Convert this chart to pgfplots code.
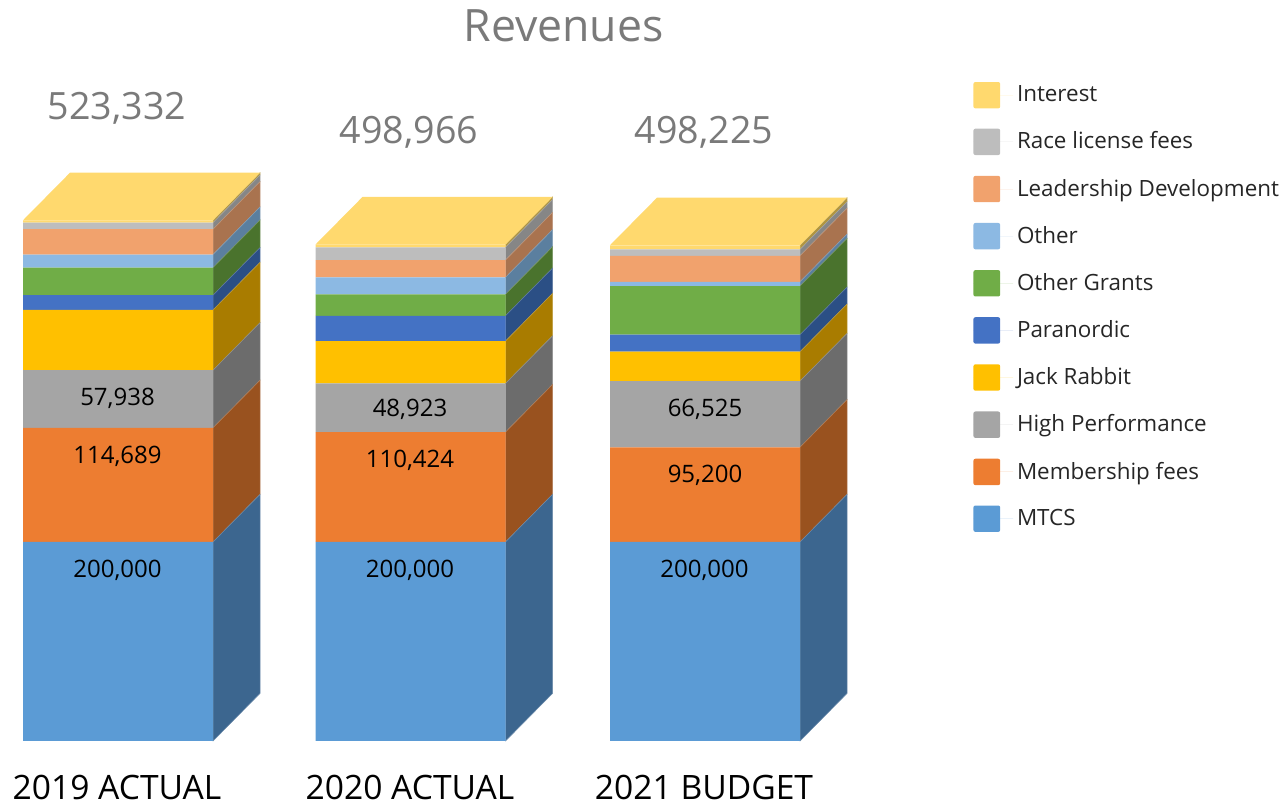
\documentclass[border=0pt]{standalone}
\usepackage{fontspec}
\setmainfont{Open Sans}
\usepackage{pgfplots}
\usepackage{pgfplotstable}
\pgfplotsset{compat=1.18}

% front faces
\definecolor{cMTCS}{HTML}{5B9BD5}
\definecolor{cMember}{HTML}{ED7D31}
\definecolor{cHigh}{HTML}{A5A5A5}
\definecolor{cJack}{HTML}{FFC000}
\definecolor{cPara}{HTML}{4472C4}
\definecolor{cGrants}{HTML}{70AD47}
\definecolor{cOther}{HTML}{8CB9E3}
\definecolor{cLead}{HTML}{F1A26D}
\definecolor{cRace}{HTML}{BDBDBD}
\definecolor{cInt}{HTML}{FFD96E}
% side faces
\definecolor{sMTCS}{HTML}{3C668F}
\definecolor{sMember}{HTML}{99521F}
\definecolor{sHigh}{HTML}{6C6C6C}
\definecolor{sJack}{HTML}{A97C00}
\definecolor{sPara}{HTML}{2B4F85}
\definecolor{sGrants}{HTML}{4A732D}
\definecolor{sOther}{HTML}{5B7F9F}
\definecolor{sLead}{HTML}{A9734F}
\definecolor{sRace}{HTML}{868686}
\definecolor{sInt}{HTML}{B09540}

\pgfplotstableread{
x     MTCS   Member High  Jack  Para  Grants Other Lead  Race  Int
118   200000 114689 57938 60600 14800 27700  13100 25500 6600  2405
410.5 200000 110424 48923 42600 25400 21500  17100 17400 12800 2819
705   200000 95200  66525 29500 17100 48900  4300  26100 6400  4200
}\revenues

\pgfplotsset{
  canvas/.style={
    hide axis, scale only axis, clip=false,
    width=642pt, height=403pt,
    xmin=0, xmax=1284, ymin=-65327, ymax=744724,
  },
}

% one stacked side face of a column, depth 47 px across and 47800 up
\newcommand\seg[2]{\addplot[fill=#1,draw=#1!75!white,line width=0.25pt,mark=none] coordinates {(\xa,#2)(\xb,#2)} \closedcycle;}
\newcommand\sides[9]{%
  \begin{axis}[canvas, stack plots=y]
  \addplot[draw=none,mark=none] coordinates {(\xa,0)(\xb,47800)};
  \seg{sMTCS}{200000}
  \seg{sMember}{#1}
  \seg{sHigh}{#2}
  \seg{sJack}{#3}
  \seg{sPara}{#4}
  \seg{sGrants}{#5}
  \seg{sOther}{#6}
  \seg{sLead}{#7}
  \seg{sRace}{#8}
  \seg{sInt}{#9}
  \end{axis}}

\begin{document}
\begin{tikzpicture}
\path[use as bounding box] (0,0) rectangle (642pt,403pt);

\def\xa{213}\def\xb{260}
\sides{114689}{57938}{60600}{14800}{27700}{13100}{25500}{6600}{2405}
\def\xa{505.5}\def\xb{552.5}
\sides{110424}{48923}{42600}{25400}{21500}{17100}{17400}{12800}{2819}
\def\xa{800}\def\xb{847}
\sides{95200}{66525}{29500}{17100}{48900}{4300}{26100}{6400}{4200}

% front faces, top faces, legend
\begin{axis}[
  canvas,
  ybar stacked, bar width=95pt,
  reverse legend,
  legend cell align=left,
  legend style={
    at={(axis cs:973,663000)}, anchor=north west, draw=none, fill=none,
    font=\fontsize{11.2pt}{13pt}\selectfont, text=black!85,
    row sep=9.55pt, inner sep=0pt,
  },
  legend image code/.code={
    \fill[#1,rounded corners=1pt] (0pt,-6.6pt) rectangle (13.4pt,6.6pt);
    \path (0pt,0pt) -- (19.8pt,0pt);
  },
]
\addplot[fill=cMTCS,draw=none] table[x=x,y=MTCS] {\revenues};
\addplot[fill=cMember,draw=none] table[x=x,y=Member] {\revenues};
\addplot[fill=cHigh,draw=none] table[x=x,y=High] {\revenues};
\addplot[fill=cJack,draw=none] table[x=x,y=Jack] {\revenues};
\addplot[fill=cPara,draw=none] table[x=x,y=Para] {\revenues};
\addplot[fill=cGrants,draw=none] table[x=x,y=Grants] {\revenues};
\addplot[fill=cOther,draw=none] table[x=x,y=Other] {\revenues};
\addplot[fill=cLead,draw=none] table[x=x,y=Lead] {\revenues};
\addplot[fill=cRace,draw=none] table[x=x,y=Race] {\revenues};
\addplot[fill=cInt,draw=none] table[x=x,y=Int] {\revenues};
\legend{MTCS,Membership fees,High Performance,Jack Rabbit,Paranordic,Other Grants,Other,Leadership Development,Race license fees,Interest}
\end{axis}

\begin{axis}[canvas]
\addplot[fill=cInt,draw=none,mark=none] coordinates {(23,523332)(213,523332)(260,571132)(70,571132)} -- cycle;
\addplot[fill=cInt,draw=none,mark=none] coordinates {(315.5,498966)(505.5,498966)(552.5,546766)(362.5,546766)} -- cycle;
\addplot[fill=cInt,draw=none,mark=none] coordinates {(610,498225)(800,498225)(847,546025)(657,546025)} -- cycle;
\end{axis}

% text, placed in reference pixels
\begin{axis}[canvas, ymin=0, ymax=806, y dir=reverse]
\node[text=black!52,font=\fontsize{22.3pt}{26pt}\selectfont] at (axis cs:563.5,26) {Revenues};
\begin{scope}[every node/.style={text=black!52,font=\fontsize{18.8pt}{22pt}\selectfont}]
\node at (axis cs:117,108) {523,332};
\node at (axis cs:409,132) {498,966};
\node at (axis cs:704,132) {498,225};
\end{scope}
\begin{scope}[every node/.style={text=black,font=\fontsize{12pt}{14pt}\selectfont}]
\node at (axis cs:117.5,570) {200,000};
\node at (axis cs:410,570) {200,000};
\node at (axis cs:704.5,570) {200,000};
\node at (axis cs:117.5,456) {114,689};
\node at (axis cs:410,460) {110,424};
\node at (axis cs:705,475) {95,200};
\node at (axis cs:117.5,398) {57,938};
\node at (axis cs:410,409) {48,923};
\node at (axis cs:705,409) {66,525};
\end{scope}
\begin{scope}[every node/.style={text=black,font=\fontsize{16.8pt}{20pt}\selectfont}]
\node at (axis cs:117,787) {2019 ACTUAL};
\node at (axis cs:410,787) {2020 ACTUAL};
\node at (axis cs:704,787) {2021 BUDGET};
\end{scope}
\end{axis}
\end{tikzpicture}
\end{document}
